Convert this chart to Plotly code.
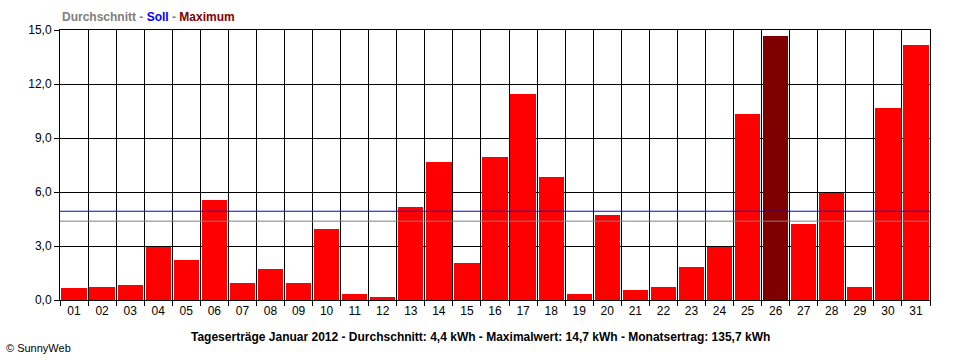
import plotly.graph_objects as go

days = [f"{d:02d}" for d in range(1, 32)]
values = [0.67, 0.72, 0.83, 2.96, 2.22, 5.56, 0.94, 1.72, 0.94, 3.94,
          0.33, 0.17, 5.17, 7.67, 2.06, 7.94, 11.44, 6.83, 0.33, 4.72,
          0.56, 0.72, 1.83, 2.96, 10.33, 14.67, 4.24, 5.96, 0.72, 10.67, 14.17]
average = 4.38
target = 4.93
y_ticks = [0, 3, 6, 9, 12, 15]
y_labels = ["0,0", "3,0", "6,0", "9,0", "12,0", "15,0"]

xpos = list(range(1, len(days) + 1))
maxv = max(values)
colors = ["#800000" if v == maxv else "#ff0000" for v in values]

fig = go.Figure()
fig.add_trace(go.Bar(x=xpos, y=values, width=0.9,
                     marker=dict(color=colors, line=dict(width=0)),
                     showlegend=False))
fig.add_trace(go.Scatter(x=[0.5, 31.5], y=[target, target], mode="lines",
                         line=dict(color="#0000ff", width=1), showlegend=False))
fig.add_trace(go.Scatter(x=[0.5, 31.5], y=[average, average], mode="lines",
                         line=dict(color="#808080", width=1), showlegend=False))

font = "Liberation Sans, Arial, sans-serif"
W, H = 960, 360
l, r, t, b = 60, 30, 30, 60
pw, ph = W - l - r, H - t - b
def px(xp): return (xp - l) / pw
def py(yp): return (H - b - yp) / ph

fig.update_layout(
    width=W, height=H,
    margin=dict(l=l, r=r, t=t, b=b),
    plot_bgcolor="white", paper_bgcolor="white",
    font=dict(family=font, size=12, color="black"),
    xaxis=dict(range=[0.5, 31.5], tickvals=xpos, ticktext=days, ticks="",
               showgrid=False, showline=True, linecolor="black", linewidth=1, mirror=True,
               zeroline=False, tickfont=dict(size=12),
               minor=dict(tick0=0.5, dtick=1, showgrid=True, gridcolor="black", gridwidth=1,
                          ticks="outside", ticklen=5, tickcolor="black")),
    yaxis=dict(range=[0, 15], tickvals=y_ticks, ticktext=y_labels, ticks="outside",
               ticklen=5, tickcolor="black", showgrid=True, gridcolor="black", gridwidth=1,
               showline=True, linecolor="black", linewidth=1, mirror=True, zeroline=False,
               tickfont=dict(size=12)),
    bargap=0,
    annotations=[
        dict(x=px(60), y=py(17), xref="paper", yref="paper", showarrow=False,
             text="<b><span style='color:#808080'>Durchschnitt - </span>"
                  "<span style='color:#0000ff'>Soll</span>"
                  "<span style='color:#808080'> - </span>"
                  "<span style='color:#800000'>Maximum</span></b>",
             xanchor="left", yanchor="middle", font=dict(size=12)),
        dict(x=px(480), y=py(337), xref="paper", yref="paper", showarrow=False,
             text="<b>Tageserträge Januar 2012 - Durchschnitt: 4,4 kWh - Maximalwert: 14,7 kWh - Monatsertrag: 135,7 kWh</b>",
             xanchor="center", yanchor="middle", font=dict(size=12)),
        dict(x=px(4), y=py(348), xref="paper", yref="paper", showarrow=False,
             text="© SunnyWeb", xanchor="left", yanchor="middle", font=dict(size=11)),
    ],
)

fig.write_html("out.html")
